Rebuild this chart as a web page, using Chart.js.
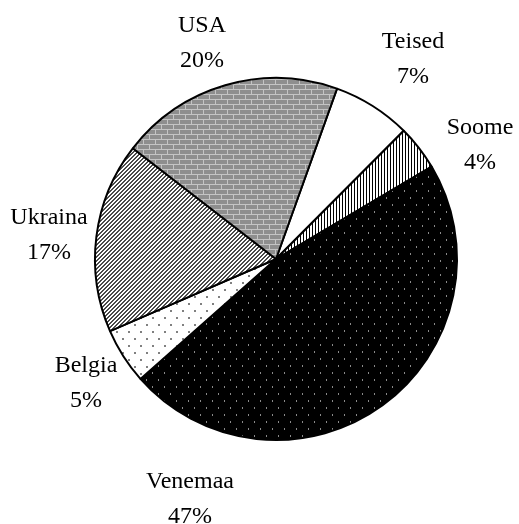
<!DOCTYPE html>
<html>
<head>
<meta charset="utf-8">
<script src="https://cdn.jsdelivr.net/npm/chart.js@4.4.1/dist/chart.umd.min.js"></script>
<style>
  html, body { margin: 0; padding: 0; background: #fff; }
  #wrap { width: 519px; height: 524px; }
  .probe { font-family: "Liberation Serif"; position: absolute; left: -999px; }
</style>
</head>
<body>
<span class="probe">Teised</span>
<div id="wrap"><canvas id="pieChart" width="519" height="524"></canvas></div>
<script>
// data, clockwise starting from the slice right of the top
const countries = ['Teised', 'Soome', 'Venemaa', 'Belgia', 'Ukraina', 'USA'];
const shares = [7, 4, 47, 5, 17, 20];

// where each two-line label sits, relative to the pie centre (first baseline)
const labelOffsets = [[137, -211], [204, -125], [-86, 229], [-190, 113], [-227, -35], [-74, -227]];

function makePattern(w, h, draw) {
  const c = document.createElement('canvas');
  c.width = w;
  c.height = h;
  const g = c.getContext('2d');
  draw(g);
  return g.createPattern(c, 'repeat');
}

// Teised - plain white
const whiteFill = '#ffffff';

// Soome - vertical stripes
const vStripes = makePattern(3, 1, g => {
  g.fillStyle = '#fff';
  g.fillRect(0, 0, 3, 1);
  g.fillStyle = '#000';
  g.fillRect(0, 0, 1, 1);
});

// Venemaa - black with small grey dots
const blackDots = makePattern(12, 14, g => {
  g.fillStyle = '#000';
  g.fillRect(0, 0, 12, 14);
  g.fillStyle = '#8a8a8a';
  g.fillRect(2, 1, 1, 2);
  g.fillRect(8, 8, 1, 2);
});

// Belgia - white with sparse grey dots
const whiteDots = makePattern(12, 14, g => {
  g.fillStyle = '#fff';
  g.fillRect(0, 0, 12, 14);
  g.fillStyle = '#808080';
  g.fillRect(2, 2, 2, 2);
  g.fillRect(8, 9, 2, 2);
});

// Ukraina - diagonal stripes
const diagStripes = makePattern(4, 4, g => {
  g.fillStyle = '#fff';
  g.fillRect(0, 0, 4, 4);
  g.fillStyle = '#4a4a4a';
  for (let x = 0; x < 4; x++) {
    for (let y = 0; y < 4; y++) {
      if ((x + y) % 4 < 2) g.fillRect(x, y, 1, 1);
    }
  }
});

// USA - grey bricks
const bricks = makePattern(12, 10, g => {
  g.fillStyle = '#c4c4c4';
  g.fillRect(0, 0, 12, 10);
  g.fillStyle = '#8e8e8e';
  g.fillRect(0, 0, 11, 4);
  g.fillRect(6, 5, 11, 4);
  g.fillRect(-6, 5, 11, 4);
});

const fills = [whiteFill, vStripes, blackDots, whiteDots, diagStripes, bricks];

const pieLabels = {
  id: 'pieLabels',
  afterDatasetsDraw(chart) {
    const ctx = chart.ctx;
    const arcs = chart.getDatasetMeta(0).data;
    ctx.save();
    ctx.font = '24px "Liberation Serif", "Times New Roman", Times, serif';
    ctx.fillStyle = '#000';
    ctx.textAlign = 'center';
    ctx.textBaseline = 'alphabetic';
    arcs.forEach((arc, i) => {
      const x = arc.x + labelOffsets[i][0];
      const y = arc.y + labelOffsets[i][1];
      ctx.fillText(countries[i], x, y);
      ctx.fillText(shares[i] + '%', x, y + 35);
    });
    ctx.restore();
  }
};

function drawChart() {
  new Chart(document.getElementById('pieChart').getContext('2d'), {
    type: 'pie',
    data: {
      labels: countries,
      datasets: [{
        data: shares,
        backgroundColor: fills,
        borderColor: '#000',
        borderWidth: 2
      }]
    },
    options: {
      responsive: false,
      devicePixelRatio: 1,
      animation: false,
      rotation: 19.7,
      layout: {
        padding: { left: 94, right: 61, top: 77, bottom: 83 }
      },
      plugins: {
        legend: { display: false },
        tooltip: { enabled: false }
      }
    },
    plugins: [pieLabels]
  });
}

document.fonts.load('24px "Liberation Serif"').then(drawChart, drawChart);
</script>
</body>
</html>
